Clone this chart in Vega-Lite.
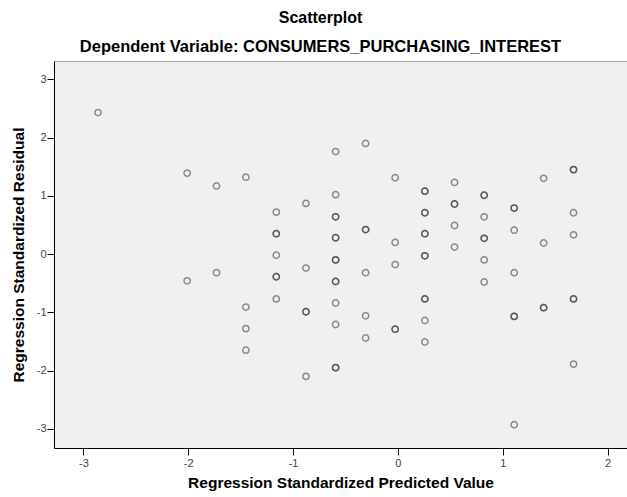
{
  "$schema": "https://vega.github.io/schema/vega-lite/v6.json",
  "width": 573,
  "height": 387,
  "autosize": {"type": "none"},
  "padding": {"left": 54, "top": 61, "right": 0, "bottom": 49},
  "background": "white",
  "title": {
    "text": "Scatterplot",
    "subtitle": "Dependent Variable: CONSUMERS_PURCHASING_INTEREST",
    "font": "Liberation Sans",
    "fontSize": 16,
    "fontWeight": "bold",
    "color": "#000000",
    "subtitleFont": "Liberation Sans",
    "subtitleFontSize": 16.5,
    "subtitleFontWeight": "bold",
    "subtitleColor": "#000000",
    "subtitlePadding": 13,
    "anchor": "middle",
    "dx": -20,
    "offset": 6
  },
  "config": {
    "view": {"fill": "#f0f0f0", "stroke": "#a8a8a8", "strokeWidth": 1},
    "axis": {
      "grid": false,
      "domainColor": "#000000",
      "domainWidth": 1,
      "tickColor": "#000000",
      "tickSize": 7,
      "tickWidth": 1,
      "labelFont": "Liberation Sans",
      "labelFontSize": 11,
      "labelColor": "#444444",
      "labelExpr": "replace(datum.label, '\u2212', '-')",
      "titleFont": "Liberation Sans",
      "titleFontSize": 15.5,
      "titleFontWeight": "bold",
      "titleColor": "#000000"
    }
  },
  "data": {
    "values": [
      {"pred": -2.86, "resid": 2.43},
      {"pred": -2.01, "resid": 1.39},
      {"pred": -2.01, "resid": -0.46},
      {"pred": -1.73, "resid": 1.17},
      {"pred": -1.73, "resid": -0.32},
      {"pred": -1.45, "resid": 1.32},
      {"pred": -1.45, "resid": -0.91},
      {"pred": -1.45, "resid": -1.28},
      {"pred": -1.45, "resid": -1.65},
      {"pred": -1.16, "resid": 0.72},
      {"pred": -1.16, "resid": 0.35},
      {"pred": -1.16, "resid": 0.35},
      {"pred": -1.16, "resid": -0.02},
      {"pred": -1.16, "resid": -0.39},
      {"pred": -1.16, "resid": -0.39},
      {"pred": -1.16, "resid": -0.77},
      {"pred": -0.877, "resid": 0.87},
      {"pred": -0.877, "resid": -0.24},
      {"pred": -0.877, "resid": -0.99},
      {"pred": -0.877, "resid": -0.99},
      {"pred": -0.877, "resid": -2.10},
      {"pred": -0.594, "resid": 1.76},
      {"pred": -0.594, "resid": 1.02},
      {"pred": -0.594, "resid": 0.64},
      {"pred": -0.594, "resid": 0.64},
      {"pred": -0.594, "resid": 0.28},
      {"pred": -0.594, "resid": 0.28},
      {"pred": -0.594, "resid": -0.10},
      {"pred": -0.594, "resid": -0.10},
      {"pred": -0.594, "resid": -0.47},
      {"pred": -0.594, "resid": -0.47},
      {"pred": -0.594, "resid": -0.84},
      {"pred": -0.594, "resid": -1.21},
      {"pred": -0.594, "resid": -1.95},
      {"pred": -0.594, "resid": -1.95},
      {"pred": -0.308, "resid": 1.90},
      {"pred": -0.308, "resid": 0.42},
      {"pred": -0.308, "resid": 0.42},
      {"pred": -0.308, "resid": -0.32},
      {"pred": -0.308, "resid": -1.06},
      {"pred": -0.308, "resid": -1.44},
      {"pred": -0.026, "resid": 1.31},
      {"pred": -0.026, "resid": 0.20},
      {"pred": -0.026, "resid": -0.18},
      {"pred": -0.026, "resid": -1.29},
      {"pred": -0.026, "resid": -1.29},
      {"pred": 0.257, "resid": 1.08},
      {"pred": 0.257, "resid": 1.08},
      {"pred": 0.257, "resid": 0.71},
      {"pred": 0.257, "resid": 0.71},
      {"pred": 0.257, "resid": 0.35},
      {"pred": 0.257, "resid": 0.35},
      {"pred": 0.257, "resid": -0.03},
      {"pred": 0.257, "resid": -0.03},
      {"pred": 0.257, "resid": -0.77},
      {"pred": 0.257, "resid": -0.77},
      {"pred": 0.257, "resid": -1.14},
      {"pred": 0.257, "resid": -1.51},
      {"pred": 0.54, "resid": 1.23},
      {"pred": 0.54, "resid": 0.86},
      {"pred": 0.54, "resid": 0.86},
      {"pred": 0.54, "resid": 0.49},
      {"pred": 0.54, "resid": 0.12},
      {"pred": 0.823, "resid": 1.01},
      {"pred": 0.823, "resid": 1.01},
      {"pred": 0.823, "resid": 0.64},
      {"pred": 0.823, "resid": 0.27},
      {"pred": 0.823, "resid": 0.27},
      {"pred": 0.823, "resid": -0.10},
      {"pred": 0.823, "resid": -0.48},
      {"pred": 1.109, "resid": 0.79},
      {"pred": 1.109, "resid": 0.79},
      {"pred": 1.109, "resid": 0.41},
      {"pred": 1.109, "resid": -0.32},
      {"pred": 1.109, "resid": -1.07},
      {"pred": 1.109, "resid": -1.07},
      {"pred": 1.109, "resid": -2.93},
      {"pred": 1.39, "resid": 1.30},
      {"pred": 1.39, "resid": 0.19},
      {"pred": 1.39, "resid": -0.92},
      {"pred": 1.39, "resid": -0.92},
      {"pred": 1.675, "resid": 1.45},
      {"pred": 1.675, "resid": 1.45},
      {"pred": 1.675, "resid": 0.71},
      {"pred": 1.675, "resid": 0.33},
      {"pred": 1.675, "resid": -0.77},
      {"pred": 1.675, "resid": -0.77},
      {"pred": 1.675, "resid": -1.89}
    ]
  },
  "mark": {
    "type": "point",
    "shape": "circle",
    "filled": false,
    "size": 40,
    "stroke": "#2e2e2e",
    "strokeWidth": 1.5,
    "strokeOpacity": 0.75,
    "clip": true
  },
  "encoding": {
    "x": {
      "field": "pred",
      "type": "quantitative",
      "scale": {"domain": [-3.28, 2.185], "nice": false, "zero": false},
      "axis": {
        "title": "Regression Standardized Predicted Value",
        "values": [-3, -2, -1, 0, 1, 2],
        "labelPadding": 2,
        "titlePadding": 7
      }
    },
    "y": {
      "field": "resid",
      "type": "quantitative",
      "scale": {"domain": [-3.33, 3.315], "nice": false, "zero": false},
      "axis": {
        "title": "Regression Standardized Residual",
        "values": [-3, -2, -1, 0, 1, 2, 3],
        "labelPadding": 1,
        "titlePadding": 10
      }
    }
  }
}
